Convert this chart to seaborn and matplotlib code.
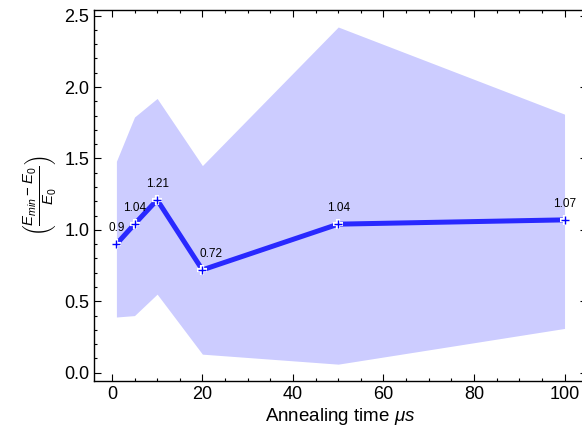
import matplotlib
matplotlib.use("Agg")
import matplotlib.pyplot as plt
import seaborn as sns
import pandas as pd
from matplotlib.ticker import MultipleLocator

# annealing times (us) and relative energy gap
anneal_time = [1, 5, 10, 20, 50, 100]
ratio = [0.90, 1.04, 1.21, 0.72, 1.04, 1.07]
band_upper = [1.48, 1.79, 1.92, 1.45, 2.42, 1.81]
band_lower = [0.39, 0.40, 0.55, 0.13, 0.06, 0.31]
point_labels = ["0.9", "1.04", "1.21", "0.72", "1.04", "1.07"]


def make_plot():
    df = pd.DataFrame({"t": anneal_time, "r": ratio,
                       "lo": band_lower, "hi": band_upper})

    sns.set_style("ticks")
    plt.rcParams["font.family"] = ["Liberation Sans", "DejaVu Sans"]
    plt.rcParams["mathtext.fontset"] = "custom"
    plt.rcParams["mathtext.rm"] = "Liberation Sans"
    plt.rcParams["mathtext.it"] = "Liberation Sans:italic"
    plt.rcParams["text.color"] = "black"
    plt.rcParams["axes.labelcolor"] = "black"

    fig = plt.figure(figsize=(5.82, 4.41), dpi=100)
    ax = fig.add_axes([0.1615, 0.136, 0.847, 0.841])

    ax.fill_between(df["t"], df["lo"], df["hi"], color="blue", alpha=0.2, linewidth=0)
    sns.lineplot(data=df, x="t", y="r", ax=ax, color="blue", alpha=0.8,
                 linewidth=3.6, errorbar=None)
    # markers: white outline under a blue plus
    ax.plot(df["t"], df["r"], linestyle="none", marker="+", ms=7, mew=3.0, color="white")
    ax.plot(df["t"], df["r"], linestyle="none", marker="+", ms=6, mew=1.0, color="blue")

    for i, lab in enumerate(point_labels):
        dx = 6 if lab == "0.72" else 0
        ax.annotate(lab, (df["t"][i], df["r"][i]), xytext=(dx, 7),
                    textcoords="offset points", ha="center", va="bottom", fontsize=8.5)

    ax.set_xlabel(r"Annealing time $\mu s$", fontsize=13.5, labelpad=2)
    ax.set_ylabel(r"$\left(\frac{E_{min}-E_0}{E_0}\right)$", fontsize=15.5, labelpad=4)

    ax.xaxis.set_major_locator(MultipleLocator(20))
    ax.xaxis.set_minor_locator(MultipleLocator(5))
    ax.yaxis.set_major_locator(MultipleLocator(0.5))
    ax.yaxis.set_minor_locator(MultipleLocator(0.1))
    ax.tick_params(which="both", direction="in", top=True, right=True,
                   labelsize=13, width=0.8, color="black", labelcolor="black")
    ax.tick_params(which="major", length=5)
    ax.tick_params(which="minor", length=2.5)
    for s in ax.spines.values():
        s.set_color("black")
        s.set_linewidth(1.0)

    fig.savefig("out.png", dpi=100)


if __name__ == "__main__":
    make_plot()
